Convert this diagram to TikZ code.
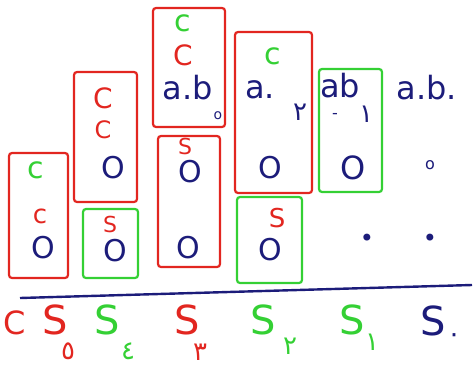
\documentclass[tikz,border=0pt]{standalone}
\usepackage{fontspec}
\setmainfont{DejaVu Sans}
\newfontfamily\arabicfont[Script=Arabic]{DejaVu Sans}
\TeXXeTstate=1
\usetikzlibrary{positioning}
\definecolor{inkred}{RGB}{226,38,32}
\definecolor{inkgreen}{RGB}{52,208,52}
\definecolor{inkblue}{RGB}{28,28,122}
\newcommand{\ardigit}[1]{{\arabicfont\beginR #1\endR}}

\begin{document}
\begin{tikzpicture}[x=1pt,y=-1pt,inner sep=0pt]
  \tikzstyle{redbox}=[draw=inkred,line width=2.2pt,rounded corners=3pt]
  \tikzstyle{greenbox}=[draw=inkgreen,line width=2.2pt,rounded corners=3pt]
  \tikzstyle{carryg}=[text=inkgreen,font=\fontsize{30}{30}\selectfont]
  \tikzstyle{carryr}=[text=inkred,font=\fontsize{30}{30}\selectfont]
  \tikzstyle{bigcarry}=[text=inkred,font=\fontsize{28}{28}\selectfont]
  \tikzstyle{digit}=[text=inkblue,font=\fontsize{30}{30}\selectfont]
  \tikzstyle{prod}=[text=inkblue,font=\fontsize{32}{32}\selectfont]
  \tikzstyle{sumr}=[text=inkred,font=\fontsize{22}{22}\selectfont]
  \tikzstyle{label}=[font=\fontsize{40}{40}\selectfont]
  \tikzstyle{index}=[font=\fontsize{26}{26}\selectfont]
  \useasboundingbox (0,0) rectangle (473,369);

  % column S5
  \node[redbox,minimum width=59,minimum height=125] (box5) at (38.5,215.5) {};
  \node[carryg] (c5g) at (36,170) {c};
  \node[carryr,font=\fontsize{26}{26}\selectfont] (c5r) at (40,216) {c};
  \node[digit] (o5) at (43,248) {O};

  % column S4
  \node[redbox,minimum width=63,minimum height=130] (box4a) at (105.5,137) {};
  \node[bigcarry] (c4a) at (103,98) {C};
  \node[bigcarry,font=\fontsize{24}{24}\selectfont] (c4b) at (103,130) {C};
  \node[digit] (o4a) at (113,168) {O};
  \node[greenbox,minimum width=55,minimum height=69] (box4b) at (110.5,243.5) {};
  \node[sumr] (s4) at (110,224) {S};
  \node[digit] (o4b) at (115,251) {O};

  % column S3
  \node[redbox,minimum width=72,minimum height=119] (box3a) at (189,67.5) {};
  \node[carryg] (c3g) at (183,23) {c};
  \node[bigcarry] (c3r) at (183,55) {C};
  \node[prod] (ab3) at (188,88) {a.b};
  \node[text=inkblue,font=\fontsize{14}{14}\selectfont] (z3) at (218,116) {o};
  \node[redbox,minimum width=62,minimum height=131] (box3b) at (189,201.5) {};
  \node[sumr] (s3) at (185,146) {S};
  \node[digit] (o3a) at (190,172) {O};
  \node[digit] (o3b) at (188,248) {O};

  % column S2
  \node[redbox,minimum width=77,minimum height=161] (box2a) at (273.5,112.5) {};
  \node[carryg] (c2g) at (273,56) {c};
  \node[prod] (a2) at (260,90) {a.};
  \node[text=inkblue,index] (i2) at (300,112) {\ardigit{٢}};
  \node[digit] (o2a) at (270,168) {O};
  \node[greenbox,minimum width=65,minimum height=86] (box2b) at (269.5,240) {};
  \node[sumr,font=\fontsize{26}{26}\selectfont] (s2) at (277,218) {S};
  \node[digit] (o2b) at (270,250) {O};

  % column S1
  \node[greenbox,minimum width=63,minimum height=123] (box1) at (350.5,130.5) {};
  \node[prod] (ab1) at (340,86) {ab};
  \node[text=inkblue,font=\fontsize{16}{16}\selectfont] (d1) at (335,116) {-};
  \node[text=inkblue,index] (i1) at (366,114) {\ardigit{١}};
  \node[digit,font=\fontsize{32}{32}\selectfont] (o1) at (353,168) {O};

  % column S0
  \node[prod] (ab0) at (427,88) {a.b.};
  \node[text=inkblue,font=\fontsize{16}{16}\selectfont] (z0) at (430,165) {o};
  \node[text=inkblue,font=\fontsize{24}{24}\selectfont] (p1) at (367,240) {•};
  \node[text=inkblue,font=\fontsize{24}{24}\selectfont] (p0) at (430,240) {•};

  % sum line
  \coordinate (lineL) at (20,298);
  \coordinate (lineR) at (472,285);
  \draw[inkblue,line width=2.4pt] (lineL) -- (lineR);

  % outputs
  \node[label,text=inkred,font=\fontsize{32}{32}\selectfont] (cout) at (15,323) {C};
  \node[label,text=inkred] (S5) at (55,320) {S};
  \node[index,text=inkred] (n5) at (68,351) {\ardigit{٥}};
  \node[label,text=inkgreen] (S4) at (107,320) {S};
  \node[index,text=inkgreen] (n4) at (128,351) {\ardigit{٤}};
  \node[label,text=inkred] (S3) at (187,320) {S};
  \node[index,text=inkred] (n3) at (200,352) {\ardigit{٣}};
  \node[label,text=inkgreen] (S2) at (263,320) {S};
  \node[index,text=inkgreen] (n2) at (290,346) {\ardigit{٢}};
  \node[label,text=inkgreen] (S1) at (352,320) {S};
  \node[index,text=inkgreen] (n1) at (372,342) {\ardigit{١}};
  \node[label,text=inkblue] (S0) at (433,321) {S};
  \node[index,text=inkblue] (n0) at (454,338) {\ardigit{٠}};
\end{tikzpicture}
\end{document}
